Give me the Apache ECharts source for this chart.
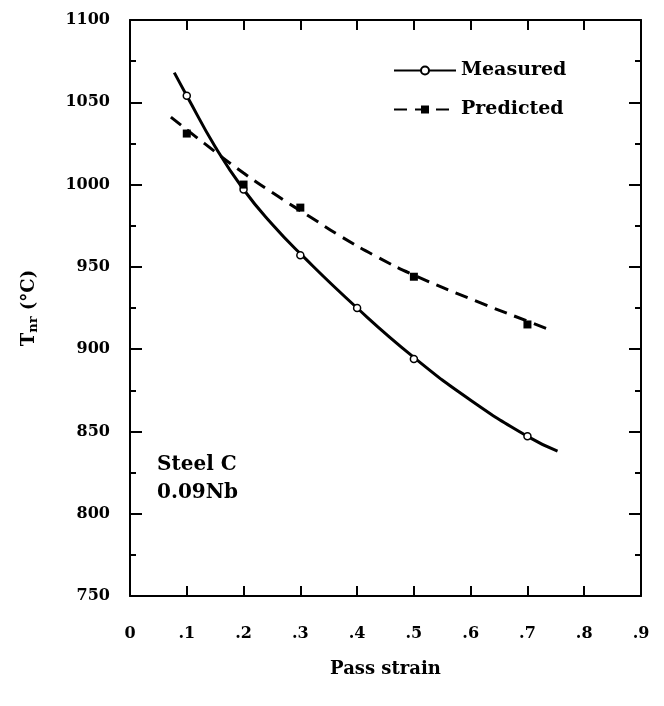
<!DOCTYPE html>
<html>
<head>
<meta charset="utf-8">
<script src="https://cdn.jsdelivr.net/npm/echarts@6/dist/echarts.min.js"></script>
<style>
  html, body { margin: 0; padding: 0; background: #fff; }
  #chart { width: 664px; height: 706px; }
</style>
</head>
<body>
<div id="chart"></div>
<script>
// measured points (open circles)
const measuredX = [0.1, 0.2, 0.3, 0.4, 0.5, 0.7]
const measuredY = [1054, 997, 957, 925, 894, 847]
// predicted points (filled squares)
const predictedX = [0.1, 0.2, 0.3, 0.5, 0.7]
const predictedY = [1031, 1000, 986, 944, 915]
// fitted curves
const measuredCurveX = [0.078, 0.1, 0.15, 0.2, 0.25, 0.3, 0.4, 0.5, 0.6, 0.7, 0.753]
const measuredCurveY = [1068, 1054, 1023, 997, 976, 958, 925, 895, 869, 847, 838]
const predictedCurveX = [0.072, 0.131, 0.2, 0.26, 0.319, 0.369, 0.43, 0.5, 0.611, 0.7, 0.745]
const predictedCurveY = [1041, 1025, 1007, 993, 980, 969, 957, 945, 929, 917, 911]
// tick labels
const xTickLabels = ['0', '.1', '.2', '.3', '.4', '.5', '.6', '.7', '.8', '.9']

const zip = (xs, ys) => xs.map((x, i) => [x, ys[i]])

const FONT = 'DejaVu Serif'
const black = '#000'

const myChart = echarts.init(document.getElementById('chart'))

// frame axes (top / right) only carry the inside ticks
const frameTick = { inside: true, length: 10, lineStyle: { color: black, width: 2 } }

const option = {
  backgroundColor: '#fff',
  animation: false,
  textStyle: { fontFamily: FONT, color: black },
  grid: { left: 130, top: 20, right: 23, bottom: 110 },
  legend: {
    orient: 'vertical',
    left: 388,
    top: 56,
    itemWidth: 62,
    itemHeight: 10,
    itemGap: 20,
    data: ['Measured', 'Predicted'],
    textStyle: { fontFamily: FONT, fontSize: 19, fontWeight: 'bold', color: black }
  },
  xAxis: [
    {
      type: 'value', min: 0, max: 0.9, interval: 0.1,
      name: 'Pass strain', nameLocation: 'middle', nameGap: 64,
      nameTextStyle: { fontFamily: FONT, fontSize: 18, fontWeight: 'bold', color: black },
      axisLine: { onZero: false, lineStyle: { color: black, width: 2 } },
      axisTick: frameTick,
      axisLabel: {
        margin: 30, fontFamily: FONT, fontSize: 16, fontWeight: 'bold', color: black,
        formatter: v => xTickLabels[Math.round(v * 10)]
      },
      splitLine: { show: false }
    },
    {
      type: 'value', position: 'top', min: 0, max: 0.9, interval: 0.1,
      axisLine: { onZero: false, lineStyle: { color: black, width: 2 } },
      axisTick: frameTick,
      axisLabel: { show: false },
      splitLine: { show: false }
    }
  ],
  yAxis: [
    {
      type: 'value', min: 750, max: 1100, interval: 50,
      name: '{t|T}{s|nr}{t| (°C)}', nameLocation: 'middle', nameGap: 90,
      nameTextStyle: {
        rich: {
          t: { fontFamily: FONT, fontSize: 18, fontWeight: 'bold', color: black },
          s: { fontFamily: FONT, fontSize: 13, fontWeight: 'bold', color: black, verticalAlign: 'bottom', padding: [8, 0, 0, 0] }
        }
      },
      axisLine: { onZero: false, lineStyle: { color: black, width: 2 } },
      axisTick: { inside: true, length: 12, lineStyle: { color: black, width: 2 } },
      minorTick: { show: true, splitNumber: 2, length: 6, lineStyle: { color: black, width: 2 } },
      axisLabel: {
        margin: 20, fontFamily: FONT, fontSize: 16, fontWeight: 'bold', color: black,
        formatter: v => String(v)
      },
      splitLine: { show: false },
      minorSplitLine: { show: false }
    },
    {
      type: 'value', position: 'right', min: 750, max: 1100, interval: 50,
      axisLine: { onZero: false, lineStyle: { color: black, width: 2 } },
      axisTick: { inside: true, length: 12, lineStyle: { color: black, width: 2 } },
      minorTick: { show: true, splitNumber: 2, length: 6, lineStyle: { color: black, width: 2 } },
      axisLabel: { show: false },
      splitLine: { show: false },
      minorSplitLine: { show: false }
    }
  ],
  graphic: [
    {
      type: 'text', left: 157, top: 451,
      style: { text: 'Steel C\n0.09Nb', fontFamily: FONT, fontSize: 20, fontWeight: 'bold', lineHeight: 28, fill: black }
    }
  ],
  series: [
    {
      name: 'Measured', type: 'line', smooth: true,
      data: zip(measuredCurveX, measuredCurveY),
      symbol: 'emptyCircle', showSymbol: false, symbolSize: 7,
      lineStyle: { color: black, width: 3 },
      itemStyle: { color: black, borderWidth: 1.5 },
      z: 2
    },
    {
      name: 'Predicted', type: 'line', smooth: true,
      data: zip(predictedCurveX, predictedCurveY),
      symbol: 'rect', showSymbol: false, symbolSize: 7,
      lineStyle: { color: black, width: 3, type: [13, 8] },
      itemStyle: { color: black },
      z: 2
    },
    {
      name: 'Measured', type: 'scatter',
      data: zip(measuredX, measuredY),
      symbol: 'circle', symbolSize: 7,
      itemStyle: { color: '#fff', borderColor: black, borderWidth: 1.5, opacity: 1 },
      z: 3
    },
    {
      name: 'Predicted', type: 'scatter',
      data: zip(predictedX, predictedY),
      symbol: 'rect', symbolSize: 8,
      itemStyle: { color: black, opacity: 1 },
      z: 3
    }
  ]
}

myChart.setOption(option)
</script>
</body>
</html>
